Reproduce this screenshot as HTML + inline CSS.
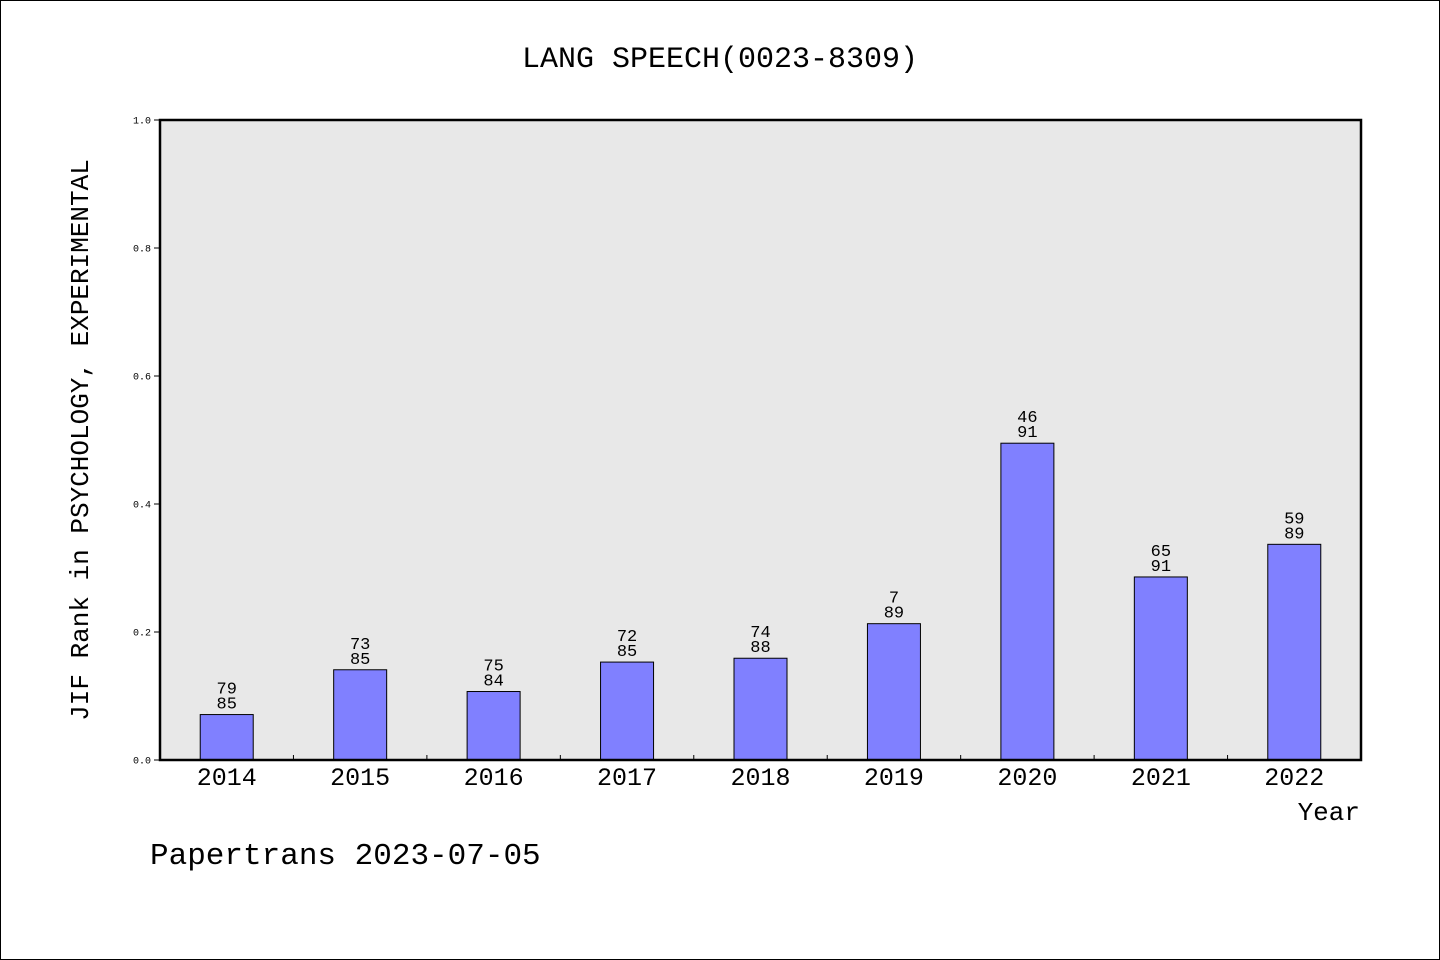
<!DOCTYPE html>
<html><head><meta charset="utf-8"><style>
body{margin:0;background:#fff}
svg{display:block}
text{font-family:"WenQuanYi Zen Hei","Liberation Mono",monospace;fill:#000}
</style></head><body>
<svg id="chart" width="1440" height="960" viewBox="0 0 1440 960" xmlns="http://www.w3.org/2000/svg">
<rect x="0.5" y="0.5" width="1439" height="959" fill="#fff" stroke="#000"/>
<text x="720" y="67" font-size="30" text-anchor="middle">LANG SPEECH(0023-8309)</text>
<rect x="160" y="120" width="1201" height="640" fill="#e8e8e8"/>
<g id="bars"></g>
<g id="axes"></g>
<rect x="160" y="120" width="1201" height="640" fill="none" stroke="#000" stroke-width="2.5"/>
<text transform="translate(88,440) rotate(-90)" font-size="26" text-anchor="middle">JIF Rank in PSYCHOLOGY, EXPERIMENTAL</text>
<text x="1360" y="820" font-size="26" text-anchor="end">Year</text>
<text x="150" y="864" font-size="31">Papertrans 2023-07-05</text>
</svg>
<script>
const years=["2014","2015","2016","2017","2018","2019","2020","2021","2022"];
const ranks=["79","73","75","72","74","7","46","65","59"];
const totals=["85","85","84","85","88","89","91","91","89"];
const values=[0.071,0.141,0.107,0.153,0.159,0.213,0.495,0.286,0.337];
const yTicks=[0,0.2,0.4,0.6,0.8,1.0];
const yTickLabels=["0.0","0.2","0.4","0.6","0.8","1.0"];
const NS="http://www.w3.org/2000/svg";
const x0=160,x1=1361,y0=760,y1=120;
const band=(x1-x0)/years.length;
const xc=i=>x0+band*(i+0.5);
const y=v=>y0-(y0-y1)*v;
function mk(t,a){const e=document.createElementNS(NS,t);for(const k in a)e.setAttribute(k,a[k]);return e;}
const gb=document.getElementById('bars'),ga=document.getElementById('axes');
years.forEach((yr,i)=>{
  const r=mk('rect',{x:xc(i)-26.5,y:y(values[i]),width:53,height:y0-y(values[i]),fill:'#8080ff',stroke:'#000','stroke-width':1});
  
  
  gb.appendChild(r);
  const t1=mk('text',{x:xc(i),y:y(values[i])-21,'font-size':17,'text-anchor':'middle'});t1.textContent=ranks[i];
  
  
  gb.appendChild(t1);
  const t2=mk('text',{x:xc(i),y:y(values[i])-6,'font-size':17,'text-anchor':'middle'});t2.textContent=totals[i];
  
  
  gb.appendChild(t2);
  const xl=mk('text',{x:xc(i),y:785,'font-size':25,'text-anchor':'middle'});xl.textContent=yr;
  
  
  ga.appendChild(xl);
  if(i>0){const tk=mk('line',{x1:x0+band*i,x2:x0+band*i,y1:y0,y2:y0-5,stroke:'#000'});
  
  
  ga.appendChild(tk);}
});
yTicks.forEach((v,i)=>{
  const tk=mk('line',{x1:x0-6,x2:x0,y1:y(v),y2:y(v),stroke:'#000'});
  
  
  ga.appendChild(tk);
  const tl=mk('text',{x:x0-9,y:y(v)+3.5,'font-size':10,'text-anchor':'end'});tl.textContent=yTickLabels[i];
  
  
  ga.appendChild(tl);
});
</script>
</body></html>
